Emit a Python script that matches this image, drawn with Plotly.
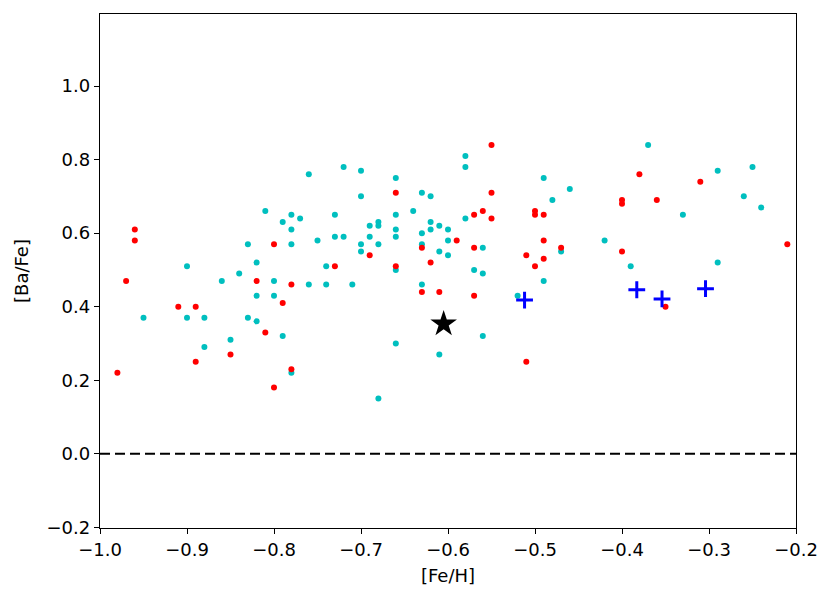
import plotly.graph_objects as go

# красные точки
red_feh = [-0.98, -0.97, -0.96, -0.96, -0.91, -0.89, -0.89, -0.85, -0.82, -0.81,
           -0.80, -0.80, -0.79, -0.78, -0.78, -0.73, -0.69, -0.66, -0.66, -0.63,
           -0.63, -0.62, -0.61, -0.59, -0.57, -0.57, -0.57, -0.56, -0.55, -0.55,
           -0.55, -0.51, -0.51, -0.50, -0.50, -0.50, -0.49, -0.49, -0.49, -0.47,
           -0.40, -0.40, -0.40, -0.38, -0.36, -0.35, -0.31, -0.21]
red_ba = [0.22, 0.47, 0.61, 0.58, 0.40, 0.40, 0.25, 0.27, 0.47, 0.33,
          0.57, 0.18, 0.41, 0.46, 0.23, 0.51, 0.54, 0.71, 0.51, 0.56,
          0.44, 0.52, 0.44, 0.58, 0.65, 0.56, 0.43, 0.66, 0.84, 0.71,
          0.64, 0.54, 0.25, 0.66, 0.65, 0.51, 0.65, 0.58, 0.53, 0.56,
          0.69, 0.68, 0.55, 0.76, 0.69, 0.40, 0.74, 0.57]

# голубые точки
cyan_feh = [-0.95, -0.90, -0.90, -0.88, -0.88, -0.86, -0.85, -0.84, -0.83, -0.83,
            -0.82, -0.82, -0.82, -0.81, -0.80, -0.80, -0.79, -0.79, -0.78, -0.78,
            -0.78, -0.78, -0.77, -0.76, -0.76, -0.75, -0.74, -0.74, -0.73, -0.73,
            -0.72, -0.72, -0.71, -0.70, -0.70, -0.70, -0.70, -0.69, -0.69, -0.68,
            -0.68, -0.68, -0.68, -0.66, -0.66, -0.66, -0.66, -0.66, -0.66, -0.64,
            -0.63, -0.63, -0.63, -0.63, -0.62, -0.62, -0.62, -0.61, -0.61, -0.61,
            -0.60, -0.60, -0.60, -0.58, -0.58, -0.58, -0.57, -0.56, -0.56, -0.56,
            -0.52, -0.49, -0.49, -0.48, -0.47, -0.46, -0.42, -0.39, -0.37, -0.33,
            -0.29, -0.29, -0.26, -0.25, -0.24]
cyan_ba = [0.37, 0.51, 0.37, 0.37, 0.29, 0.47, 0.31, 0.49, 0.57, 0.37,
           0.52, 0.43, 0.36, 0.66, 0.47, 0.43, 0.63, 0.32, 0.65, 0.61,
           0.57, 0.22, 0.64, 0.76, 0.46, 0.58, 0.51, 0.46, 0.65, 0.59,
           0.78, 0.59, 0.46, 0.77, 0.70, 0.57, 0.55, 0.62, 0.59, 0.63,
           0.62, 0.57, 0.15, 0.75, 0.65, 0.61, 0.59, 0.50, 0.30, 0.66,
           0.71, 0.60, 0.57, 0.46, 0.70, 0.63, 0.61, 0.62, 0.55, 0.27,
           0.61, 0.58, 0.54, 0.81, 0.78, 0.64, 0.50, 0.56, 0.49, 0.32,
           0.43, 0.75, 0.47, 0.69, 0.55, 0.72, 0.58, 0.51, 0.84, 0.65,
           0.77, 0.52, 0.70, 0.78, 0.67]

# синие кресты
plus_feh = [-0.512, -0.383, -0.354, -0.304]
plus_ba = [0.418, 0.446, 0.421, 0.449]

# звезда
star_feh = [-0.605]
star_ba = [0.353]

font = dict(family="DejaVu Sans", size=18, color="black")

fig = go.Figure()
fig.add_trace(go.Scatter(x=cyan_feh, y=cyan_ba, mode="markers",
                         marker=dict(color="#00bfbf", size=6)))
fig.add_trace(go.Scatter(x=red_feh, y=red_ba, mode="markers",
                         marker=dict(color="#ff0000", size=6)))
fig.add_trace(go.Scatter(x=plus_feh, y=plus_ba, mode="markers",
                         marker=dict(symbol="cross-thin", size=12, color="blue",
                                     line=dict(color="blue", width=3))))
fig.add_trace(go.Scatter(x=star_feh, y=star_ba, mode="markers",
                         marker=dict(symbol="star", size=20, color="black")))

fig.add_shape(type="line", xref="x domain", yref="y", x0=0, x1=1, y0=0, y1=0,
              line=dict(color="black", width=2.2, dash="10px,5px"))

axis_style = dict(showgrid=False, zeroline=False, showline=True, linecolor="black",
                  linewidth=1.3, mirror=True, ticks="outside", ticklen=5,
                  tickcolor="black", tickfont=font)

fig.update_xaxes(range=[-1.0, -0.2], tickvals=[-1.0, -0.9, -0.8, -0.7, -0.6, -0.5, -0.4, -0.3, -0.2],
                 ticktext=["\u22121.0", "\u22120.9", "\u22120.8", "\u22120.7", "\u22120.6",
                           "\u22120.5", "\u22120.4", "\u22120.3", "\u22120.2"],
                 title=dict(text="[Fe/H]", font=font, standoff=10), **axis_style)
fig.update_yaxes(range=[-0.202, 1.196], tickvals=[-0.2, 0.0, 0.2, 0.4, 0.6, 0.8, 1.0],
                 ticktext=["\u22120.2", "0.0", "0.2", "0.4", "0.6", "0.8", "1.0"],
                 title=dict(text="[Ba/Fe]", font=font, standoff=13), **axis_style)

fig.update_layout(width=830, height=602, showlegend=False,
                  plot_bgcolor="white", paper_bgcolor="white",
                  margin=dict(l=92, r=42, t=6, b=82))
fig.write_html("out.html")
